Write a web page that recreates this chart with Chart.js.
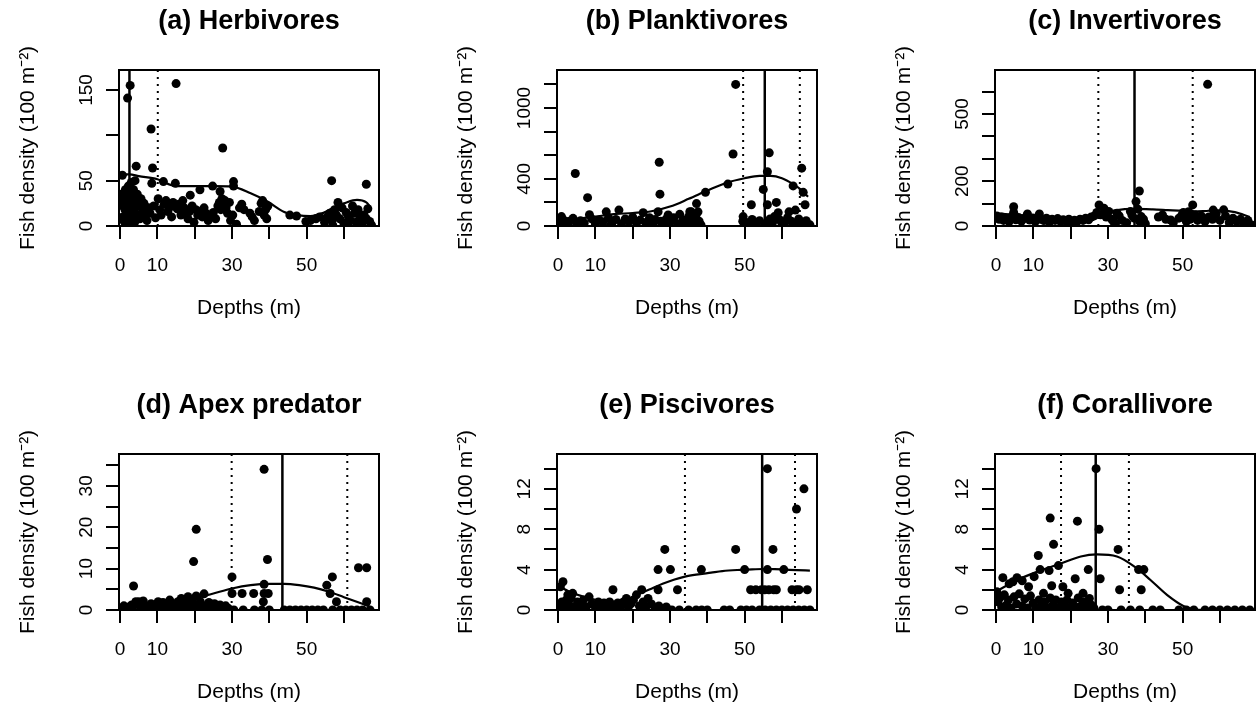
<!DOCTYPE html>
<html><head><meta charset="utf-8">
<script src="https://cdn.jsdelivr.net/npm/chart.js@4.4.0/dist/chart.umd.min.js"></script>
<style>
html,body{margin:0;padding:0;background:#fff;width:1260px;height:713px;overflow:hidden}
.p{position:absolute;width:438px;height:329px}
canvas{display:block}
</style></head><body>
<div class="p" style="left:0px;top:0px"><canvas id="c0" width="438" height="329"></canvas></div>
<div class="p" style="left:438px;top:0px"><canvas id="c1" width="438" height="329"></canvas></div>
<div class="p" style="left:876px;top:0px"><canvas id="c2" width="438" height="329"></canvas></div>
<div class="p" style="left:0px;top:384px"><canvas id="c3" width="438" height="329"></canvas></div>
<div class="p" style="left:438px;top:384px"><canvas id="c4" width="438" height="329"></canvas></div>
<div class="p" style="left:876px;top:384px"><canvas id="c5" width="438" height="329"></canvas></div>
<script>
// ---------- DATA ----------
const panelTitles = ['(a) Herbivores','(b) Planktivores','(c) Invertivores','(d) Apex predator','(e) Piscivores','(f) Corallivore'];
const xTitle = 'Depths (m)';
const yTitle = 'Fish density (100 m\u207B\u00B2)';
const xTickValues = [0,10,20,30,40,50,60];
const xTickLabels = ['0','10','','30','','50',''];

const yMaxes = [172, 1322, 696, 37.7, 15.45, 15.45];
const yTickValues = [
  [0,50,100,150],
  [0,200,400,600,800,1000,1200],
  [0,100,200,300,400,500,600],
  [0,5,10,15,20,25,30,35],
  [0,2,4,6,8,10,12,14],
  [0,2,4,6,8,10,12,14]
];
const yTickLabels = [
  ['0','50','','150'],
  ['0','','400','','','1000',''],
  ['0','','200','','','500',''],
  ['0','','10','','20','','30',''],
  ['0','','4','','8','','12',''],
  ['0','','4','','8','','12','']
];

// breakpoint depth (solid) and its interval (dotted)
const breakDepth = [2.5, 55.4, 37.1, 43.5, 54.7, 26.7];
const breakInterval = [[10.1],[49.6,64.8],[27.4,52.7],[29.9,60.9],[34.0,63.5],[17.4,35.6]];

// fitted smooth curves
const herbCurveDepth = [0,2.5,5,10,15,20,25,30,35,39.5,44,47.5,51,54.5,58,60,63.5,66,67];
const herbCurveFit   = [57,57,55,51.5,44,44,44,43.5,36,27,15.5,12,11,14.5,22,25,28.7,26,21.3];
const plankCurveDepth = [0,5,10,15,20,25,30,35,40,45,50,54,57,60,63,65,67];
const plankCurveFit   = [40,60,80,100,110,125,165,230,300,365,405,425,425,405,355,310,248];
const invCurveDepth = [0,5,10,15,20,25,28,32,37,42,46,50,53,57,60,64,68];
const invCurveFit   = [57,50,43,37,34,42,55,70,76,74,71,68,64,68,70,62,40];
const apexCurveDepth = [0,5,10,15,20,25,30,35,40,44,48,52,56,60,64,67];
const apexCurveFit   = [0.5,1.0,1.7,2.3,2.8,4.0,5.2,6.0,6.3,6.3,6.0,5.4,4.4,3.1,1.8,0.8];
const pisCurveDepth = [0,0.5,4,7,10,13,16,19,22,25,28,31,34,37,41,44,48,52,55,58,61,64,67.5];
const pisCurveFit   = [2.4,2.3,1.65,1.3,1.0,0.85,0.8,1.1,1.65,2.1,2.6,3.0,3.3,3.5,3.7,3.85,3.96,4.02,4.06,4.05,4.0,3.95,3.9];
const corCurveDepth = [0,1.3,5.8,11.1,17.3,22.7,27,32.4,37.8,41.3,45.8,50.2,52.8,56,60,64,68];
const corCurveFit   = [1.8,2.1,3.0,3.8,4.6,5.3,5.5,5.3,4.1,3.0,1.5,0.4,0.1,0,0,0,0];

// observations [depth, density]
const herbObs = [[2.7,155],[2.0,141],[15.0,157],[8.3,107],[27.5,86],[4.3,66],[8.7,64],[56.7,50],[66.0,46],[0.6,56],
[8.5,47],[11.6,49],[14.8,47],[3.0,48],[4.0,50],[2.2,44],[1.4,40],[21.4,40],[24.8,44],[26.8,38],[30.4,49],[30.4,44],[18.8,34],
[0.3,35],[0.5,27],[0.8,22],[1.0,30],[1.3,18],[1.6,33],[1.8,12],[2.3,25],[2.6,36],[3.0,30],[3.3,21],[3.6,40],[3.8,15],[4.2,28],[4.6,35],[5.0,22],[5.3,8],[5.6,30],[6.0,18],[0.7,10],[1.1,5],[2.0,3],[2.9,9],[3.9,4],[4.8,12],[6.4,25],[6.8,12],[7.2,6],[7.6,20],[8.0,14],[9.0,22],[9.5,9],[10.2,30],[10.6,18],[11.0,12],[11.8,24],[12.3,28],[12.8,16],[13.3,21],[13.8,10],[14.2,26],[15.3,19],[15.8,24],[16.3,12],[16.8,28],[17.2,20],[17.7,14],[18.2,8],[18.6,16],[19.3,22],[19.8,4],[20.3,18],[20.8,12],[21.5,16],[22.0,10],[22.5,20],[23.0,14],[23.6,6],[24.2,12],[25.0,15],[25.6,8],[26.2,22],[26.6,26],[27.0,18],[27.3,30],[27.7,24],[28.1,28],[28.4,20],[28.8,14],[29.3,26],[29.6,6],[30.2,12],[31.2,2],[32.0,20],[32.6,24],[33.2,18],[34.8,14],[35.4,10],[36.0,6],[37.3,16],[37.8,25],[38.2,28],[38.6,12],[39.0,18],[39.3,8],[39.6,22],[45.5,12],[47.3,11],[49.8,5],[51.0,6],[52.5,8],[53.5,10],[54.8,4],[55.5,10],[56.2,14],[56.8,6],[57.5,18],[58.0,12],[58.4,26],[58.9,8],[59.5,20],[60.0,3],[60.6,15],[61.2,10],[61.8,6],[62.3,22],[62.8,14],[63.3,4],[63.8,18],[64.3,10],[64.8,2],[65.4,12],[66.0,8],[66.4,19],[66.9,5],[67.4,1],[61.0,1],[57.0,1]];

const plankObs = [[47.6,1200],[46.9,610],[56.6,620],[27.1,540],[4.6,445],[56.1,460],[65.3,490],[27.3,270],[7.9,240],[45.5,355],[39.5,285],[55.0,310],[63.0,340],[65.7,285],[66.2,180],[51.8,180],[56.1,180],[58.5,200],[37.1,190],[37.5,120],[35.7,120],[49.6,80],[63.6,135],[61.9,120],[59.0,113],
[0.9,80],[4.0,65],[8.4,95],[12.9,120],[16.3,135],[22.8,113],[26.8,121],[29.5,93],[32.6,99],[35.3,121],
[0.3,30],[1.5,50],[2.2,20],[3.0,40],[5.0,15],[6.0,45],[7.0,25],[9.0,60],[10.0,20],[11.0,50],[12.0,35],[13.5,70],[14.5,30],[15.5,55],[17.0,20],[18.0,60],[19.0,40],[20.0,75],[21.0,25],[22.0,50],[23.5,30],[24.5,70],[25.5,20],[26.0,55],[27.5,40],[28.5,15],[29.0,60],[30.0,35],[31.0,70],[32.0,20],[33.5,50],[34.5,30],[35.0,80],[36.0,60],[36.5,15],[37.0,95],[37.8,40],[38.3,10],[49.5,40],[50.0,10],[51.0,30],[52.0,55],[53.0,20],[54.0,45],[55.5,15],[56.8,60],[57.5,30],[58.0,80],[59.5,50],[60.5,20],[61.5,70],[62.5,40],[63.5,10],[64.5,60],[65.5,25],[66.5,45],[67.5,10],[55.8,5],[60.0,5],[67.0,5],[2.0,5],[14.0,5],[24.0,5],[33.0,5],[53.0,5],[64.0,5]];

const invObs = [[56.7,632],[38.4,156],[37.5,109],[4.7,86],[27.6,94],[52.7,94],[58.2,71],[61.0,72],[28.9,79],[11.6,54],[8.4,54],[32.4,57],[36.4,49],[38.9,42],[44.6,49],[46.8,27],[49.8,49],[50.7,42],[51.6,64],[31.5,19],
[0.2,45],[0.8,30],[1.5,40],[2.0,25],[2.8,35],[3.5,20],[4.2,42],[4.7,60],[5.3,28],[6.0,38],[6.8,22],[7.5,33],[8.2,45],[9.0,27],[9.8,36],[10.5,20],[11.2,40],[12.0,30],[12.8,24],[13.5,35],[14.3,18],[15.0,30],[15.8,25],[16.5,33],[17.3,20],[18.0,28],[18.8,22],[19.5,30],[20.3,18],[21.0,26],[21.8,22],[22.5,30],[23.3,25],[24.0,35],[24.8,28],[25.5,40],[26.3,45],[27.0,60],[28.0,50],[29.5,40],[30.2,65],[31.0,30],[32.0,10],[33.0,45],[33.8,25],[35.0,15],[36.0,65],[37.0,35],[38.0,75],[38.5,20],[39.5,30],[40.0,10],[43.5,40],[45.5,30],[47.5,15],[49.0,35],[50.2,60],[51.0,20],[52.0,30],[53.3,50],[54.0,25],[55.0,45],[56.0,20],[57.0,40],[58.0,30],[59.0,55],[60.0,25],[61.5,45],[62.5,15],[63.5,35],[64.5,20],[65.5,30],[66.5,10],[67.5,25],[68.5,5]];

const apexObs = [[38.6,34],[20.4,19.5],[19.7,11.7],[39.5,12.2],[30.0,8],[3.6,5.8],[38.6,6.2],[30.0,4],[32.7,4],[35.8,4],[38.6,4],[39.7,4],[38.4,2],[55.4,6],[56.9,8],[56.3,4],[58.0,2],[63.9,10.2],[66.1,10.2],[66.1,2],[22.5,3.9],[20.4,3.4],[18.2,3.2],[16.4,2.8],[13.3,2.4],[10.2,2.0],[6.2,2.2],[3.1,1.2],[4.2,2],[5.0,2],
[0.3,0.5],[1.0,1.0],[1.8,0.3],[2.5,0.8],[3.3,0.2],[4.5,1.5],[5.5,0.5],[6.8,1.0],[7.5,0.3],[8.3,1.5],[9.0,0.6],[9.8,1.2],[10.8,0.4],[11.5,1.8],[12.3,0.8],[13.0,0.2],[14.0,1.5],[14.8,0.6],[15.5,2.0],[16.2,1.0],[17.0,0.3],[17.8,1.6],[18.5,0.7],[19.3,2.2],[20.0,1.2],[20.8,0.4],[21.5,2.0],[22.3,1.0],[23.0,0.3],[23.8,1.8],[24.5,0.8],[25.3,1.5],[26.0,0.5],[26.8,1.2],[27.5,0.3],[28.3,1.0],[29.0,0.4],[30.5,0],[33.0,0],[36.0,0],[38.0,0],[40.0,0],[44.0,0],[45.5,0],[47.0,0],[48.5,0],[50.0,0],[51.5,0],[53.0,0],[54.5,0],[57.0,0],[59.0,0],[60.5,0],[62.0,0],[63.5,0],[65.0,0],[67.0,0]];

const pisObs = [[56.1,14],[65.9,12],[63.9,10],[28.6,6],[47.6,6],[57.6,6],[26.8,4],[30.1,4],[38.4,4],[50.0,4],[56.1,4],[60.5,4],[14.7,2],[22.4,2],[26.8,2],[32.0,2],[51.6,2],[53.0,2],[54.5,2],[55.4,2],[56.5,2],[57.8,2],[58.5,2],[62.7,2],[63.9,2],[64.6,2],[66.8,2],[1.3,2.8],[0.6,2.3],[2.6,1.5],[3.9,1.65],[8.3,1.3],[18.3,1.15],[21.0,1.5],[24.1,1.15],
[0.2,0.5],[1.0,0.8],[1.8,0.3],[2.2,1.0],[3.0,0.5],[3.5,1.2],[4.5,0.3],[5.2,0.8],[6.0,0.4],[6.8,1.0],[7.5,0.3],[9.0,0.6],[10.0,0.3],[10.8,0.8],[11.5,0.4],[12.3,0.7],[13.0,0.2],[13.8,0.8],[14.5,0.5],[15.3,0.3],[16.0,0.7],[16.8,0.4],[17.5,0.8],[18.8,0.3],[19.5,0.6],[20.2,1.0],[21.8,0.4],[22.8,0.8],[23.5,0.3],[25.0,0.6],[26.0,0.2],[27.0,0.4],[28.0,0.1],[29.0,0.3],[30.5,0],[32.5,0],[35.0,0],[37.0,0],[38.5,0],[40.0,0],[44.5,0],[46.0,0],[49.0,0],[50.5,0],[52.0,0],[54.0,0],[55.5,0],[57.0,0],[58.5,0],[60.0,0],[61.5,0],[63.0,0],[64.5,0],[66.0,0],[67.5,0]];

const corObs = [[26.8,14],[27.6,8],[14.5,9.1],[21.8,8.8],[15.4,6.5],[32.7,6],[11.3,5.4],[11.8,4],[14.2,3.9],[16.7,4.4],[24.7,4],[27.9,3.1],[38.2,4],[39.6,4],[21.2,3.1],[1.8,3.2],[5.6,3.2],[10.2,3.3],[8.7,2.3],[14.9,2.4],[17.9,2.3],[33.1,2],[38.9,2],[12.7,1.65],[19.3,1.65],[23.3,1.65],[25.0,1.15],[3.5,2.6],[4.5,2.8],[7.0,2.9],
[0.2,1.8],[0.5,0.8],[1.0,1.2],[1.5,0.3],[2.2,1.5],[2.8,0.5],[3.3,1.0],[4.0,0.2],[4.8,1.3],[5.5,0.6],[6.2,1.6],[7.0,0.4],[7.7,1.1],[8.4,0.2],[9.2,1.4],[9.9,0.7],[10.7,0.2],[11.5,1.0],[12.2,0.4],[13.0,0.8],[13.7,0.2],[14.5,1.2],[15.2,0.5],[16.0,1.0],[16.8,0.2],[17.5,0.8],[18.3,0.4],[19.0,1.0],[19.8,0.2],[20.5,0.7],[21.3,0.3],[22.0,1.2],[22.8,0.4],[23.5,0.8],[24.3,0.2],[25.5,0.5],[26.2,0.2],[28.5,0],[30.0,0],[33.5,0],[36.0,0],[38.5,0],[42.0,0],[44.0,0],[49.0,0],[51.0,0],[53.0,0],[56.0,0],[58.0,0],[60.0,0],[62.0,0],[64.0,0],[66.0,0],[68.0,0]];

const panelObs = [herbObs, plankObs, invObs, apexObs, pisObs, corObs];
const panelCurveDepth = [herbCurveDepth, plankCurveDepth, invCurveDepth, apexCurveDepth, pisCurveDepth, corCurveDepth];
const panelCurveFit = [herbCurveFit, plankCurveFit, invCurveFit, apexCurveFit, pisCurveFit, corCurveFit];

// ---------- CHART ----------
const FONT = "'Liberation Sans', Arial, Helvetica, sans-serif";
Chart.defaults.font.family = FONT;
Chart.defaults.color = '#000';
const TICK_SIZE = 19;
const meas = document.createElement('canvas').getContext('2d');
meas.font = TICK_SIZE + 'px ' + FONT;
function widest(labels){ return Math.max.apply(null, labels.map(l => meas.measureText(l).width)); }

const boxPlugin = {
  id: 'box',
  afterDatasetsDraw(chart) {
    const {ctx, chartArea: a} = chart;
    ctx.save();
    ctx.strokeStyle = '#000';
    ctx.lineWidth = 2;
    ctx.strokeRect(a.left, a.top, a.right - a.left, a.bottom - a.top);
    ctx.restore();
  }
};

function makePanel(i) {
  const yMax = yMaxes[i];
  const datasets = [];
  datasets.push({
    data: panelObs[i].map(p => ({x: p[0], y: p[1]})),
    pointRadius: 4.5, pointHoverRadius: 4.5, pointBackgroundColor: '#000', pointBorderWidth: 0,
    showLine: false, clip: 0, order: 3
  });
  datasets.push({
    data: panelCurveDepth[i].map((d, k) => ({x: d, y: panelCurveFit[i][k]})),
    showLine: true, borderColor: '#000', borderWidth: 2.2, pointRadius: 0,
    cubicInterpolationMode: 'monotone', fill: false, clip: 0, order: 0
  });
  datasets.push({
    data: [{x: breakDepth[i], y: 0}, {x: breakDepth[i], y: yMax}],
    showLine: true, borderColor: '#000', borderWidth: 2.5, pointRadius: 0, clip: 0, order: 1
  });
  breakInterval[i].forEach(v => datasets.push({
    data: [{x: v, y: 0}, {x: v, y: yMax}],
    showLine: true, borderColor: '#000', borderWidth: 2, borderDash: [2, 5], pointRadius: 0, clip: 0, order: 1
  }));
  const yPad = 19 - widest(yTickLabels[i]) / 2;
  const gridOpts = {drawOnChartArea: false, drawTicks: true, tickLength: 13, tickWidth: 2, tickColor: '#000', color: '#000', lineWidth: 2};
  new Chart(document.getElementById('c' + i), {
    type: 'scatter',
    data: {datasets},
    options: {
      responsive: false, animation: false, events: [],
      layout: {padding: {left: 0, right: 59, top: 0, bottom: 0}},
      plugins: {
        legend: {display: false}, tooltip: {enabled: false},
        title: {display: true, text: panelTitles[i], fullSize: false, color: '#000',
          font: {family: FONT, size: 27, weight: 'bold'}, padding: {top: 5, bottom: 32.6}}
      },
      scales: {
        x: {
          type: 'linear', min: -0.3, max: 69.4,
          afterBuildTicks: s => { s.ticks = xTickValues.map(v => ({value: v})); },
          afterFit: s => { s.height = 103; },
          grid: gridOpts, border: {display: false},
          ticks: {color: '#000', font: {size: TICK_SIZE}, padding: 15, maxRotation: 0, autoSkip: false,
            callback: (v, idx) => xTickLabels[idx]},
          title: {display: true, text: xTitle, color: '#000', font: {size: 21}, padding: {top: 0, bottom: 8.4}}
        },
        y: {
          type: 'linear', min: 0, max: yMax,
          afterBuildTicks: s => { s.ticks = yTickValues[i].map(v => ({value: v})); },
          afterFit: s => { s.width = 119; },
          grid: gridOpts, border: {display: false},
          ticks: {color: '#000', font: {size: TICK_SIZE}, padding: yPad, minRotation: 90, maxRotation: 90,
            crossAlign: 'center', autoSkip: false, callback: (v, idx) => yTickLabels[i][idx]},
          title: {display: true, text: yTitle, color: '#000', font: {size: 21}, padding: {top: 15.4, bottom: 0}}
        }
      }
    },
    plugins: [boxPlugin]
  });
}
for (let i = 0; i < 6; i++) makePanel(i);
</script>
</body></html>
